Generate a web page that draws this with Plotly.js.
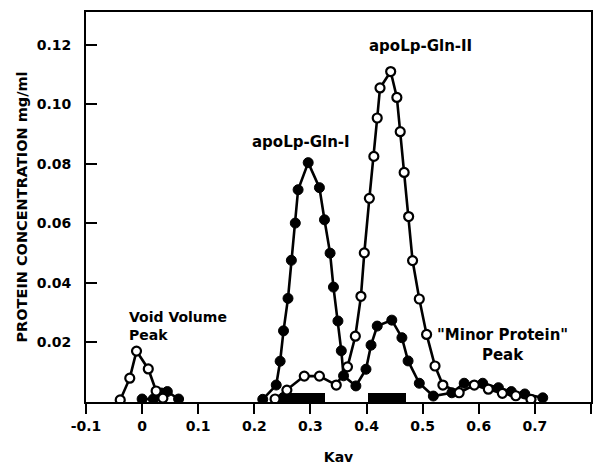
<!DOCTYPE html>
<html>
<head>
<meta charset="utf-8">
<script src="https://cdn.plot.ly/plotly-3.0.1.min.js"></script>
<style>html,body{margin:0;padding:0;background:#fff;}#chart{width:603px;height:465px;}</style>
</head>
<body>
<div id="chart"></div>
<script>
// Void volume peak
const voidOpenX = [-0.039, -0.022, -0.010, 0.011, 0.025, 0.037];
const voidOpenY = [0.0007, 0.0080, 0.0171, 0.0111, 0.0037, 0.0013];
const voidFilledX = [0.000, 0.020, 0.035, 0.045, 0.065];
const voidFilledY = [0.0010, 0.0010, 0.0030, 0.0035, 0.0010];

// Filled circles (apoLp-Gln-I profile)
const filledX = [0.215, 0.239, 0.246, 0.252, 0.260, 0.266, 0.273, 0.278, 0.296, 0.316, 0.325, 0.335, 0.341, 0.349, 0.355, 0.359, 0.381, 0.399, 0.408, 0.419, 0.445, 0.463, 0.474, 0.494, 0.519, 0.552, 0.574, 0.607, 0.635, 0.658, 0.682, 0.714];
const filledY = [0.0009, 0.0057, 0.0137, 0.0239, 0.0348, 0.0476, 0.0601, 0.0713, 0.0804, 0.0720, 0.0612, 0.0500, 0.0386, 0.0272, 0.0172, 0.0088, 0.0054, 0.0110, 0.0191, 0.0255, 0.0275, 0.0216, 0.0138, 0.0063, 0.0020, 0.0031, 0.0063, 0.0063, 0.0048, 0.0035, 0.0027, 0.0014];

// Open circles (apoLp-Gln-II profile)
const openX = [0.237, 0.258, 0.289, 0.316, 0.346, 0.366, 0.380, 0.390, 0.396, 0.405, 0.413, 0.419, 0.424, 0.443, 0.454, 0.460, 0.467, 0.475, 0.482, 0.494, 0.507, 0.522, 0.536, 0.565, 0.592, 0.617, 0.642, 0.666, 0.693];
const openY = [0.0010, 0.0040, 0.0087, 0.0087, 0.0057, 0.0118, 0.0221, 0.0355, 0.0501, 0.0684, 0.0825, 0.0954, 0.1055, 0.1110, 0.1023, 0.0908, 0.0771, 0.0623, 0.0475, 0.0346, 0.0227, 0.0121, 0.0057, 0.0031, 0.0057, 0.0043, 0.0029, 0.0021, 0.0009];

// Pooled fractions (black bars on baseline)
const poolStart = [0.246, 0.402];
const poolEnd = [0.326, 0.470];
const poolHeight = [0.003, 0.003];

const xTickVals = [-0.1, 0, 0.1, 0.2, 0.3, 0.4, 0.5, 0.6, 0.7, 0.8];
const xTickText = ["-0.1", "0", "0.1", "0.2", "0.3", "0.4", "0.5", "0.6", "0.7", "0.8"];
const yTickVals = [0, 0.02, 0.04, 0.06, 0.08, 0.10, 0.12];
const yTickText = ["", "0.02", "0.04", "0.06", "0.08", "0.10", "0.12"];

const FONT = "DejaVu Sans, sans-serif";
const lineStyle = {color: "#000", width: 2.6};
const openMarker = {symbol: "circle", size: 9, color: "#fff", line: {color: "#000", width: 2.2}};
const filledMarker = {symbol: "circle", size: 10, color: "#000", line: {color: "#000", width: 1}};

const traces = [
  {type: "bar", x: poolStart.map((s, i) => (s + poolEnd[i]) / 2), width: poolStart.map((s, i) => poolEnd[i] - s),
   y: poolHeight, marker: {color: "#000", line: {width: 0}}, hoverinfo: "skip"},
  {type: "scatter", mode: "lines+markers", x: voidFilledX, y: voidFilledY, line: lineStyle, marker: filledMarker},
  {type: "scatter", mode: "lines+markers", x: filledX, y: filledY, line: lineStyle, marker: filledMarker},
  {type: "scatter", mode: "lines+markers", x: voidOpenX, y: voidOpenY, line: lineStyle, marker: openMarker},
  {type: "scatter", mode: "lines+markers", x: openX, y: openY, line: lineStyle, marker: openMarker}
];

const annFont = {family: FONT, size: 15, weight: "bold", color: "#000"};
const layout = {
  width: 603, height: 465,
  margin: {l: 86, r: 12, t: 12, b: 63},
  paper_bgcolor: "#fff", plot_bgcolor: "#fff",
  showlegend: false,
  bargap: 0,
  font: {family: FONT, color: "#000"},
  xaxis: {
    range: [-0.1, 0.8], showgrid: false, zeroline: false,
    showline: true, mirror: true, linecolor: "#000", linewidth: 2,
    ticks: "outside", ticklen: 10, tickwidth: 2, tickcolor: "#000",
    tickvals: xTickVals, ticktext: xTickText,
    tickfont: {family: FONT, size: 14, weight: "bold", color: "#000"},
    title: {text: "Kav", font: {family: FONT, size: 14, weight: "bold", color: "#000"}, standoff: 20}
  },
  yaxis: {
    range: [0, 0.131], showgrid: false, zeroline: false,
    showline: true, mirror: true, linecolor: "#000", linewidth: 2,
    ticks: "inside", ticklen: 11, tickwidth: 2, tickcolor: "#000",
    tickvals: yTickVals, ticktext: yTickText,
    ticklabelstandoff: 10,
    tickfont: {family: FONT, size: 14, weight: "bold", color: "#000"},
    title: {text: "PROTEIN CONCENTRATION mg/ml", font: {family: FONT, size: 14.5, weight: "bold", color: "#000"}, standoff: 6}
  },
  annotations: [
    {x: 0.283, y: 0.0872, xref: "x", yref: "y", text: "apoLp-Gln-I", showarrow: false, font: annFont},
    {x: 0.497, y: 0.1197, xref: "x", yref: "y", text: "apoLp-Gln-II", showarrow: false, font: annFont},
    {x: -0.027, y: 0.0255, xref: "x", yref: "y", text: "Void Volume<br>Peak", showarrow: false, xanchor: "left", align: "left", font: {family: FONT, size: 14, weight: "bold", color: "#000"}},
    {x: 0.643, y: 0.0191, xref: "x", yref: "y", text: "\"Minor Protein\"<br>Peak", showarrow: false, align: "center", font: annFont}
  ]
};

Plotly.newPlot("chart", traces, layout, {displayModeBar: false, staticPlot: true});
</script>
</body>
</html>
